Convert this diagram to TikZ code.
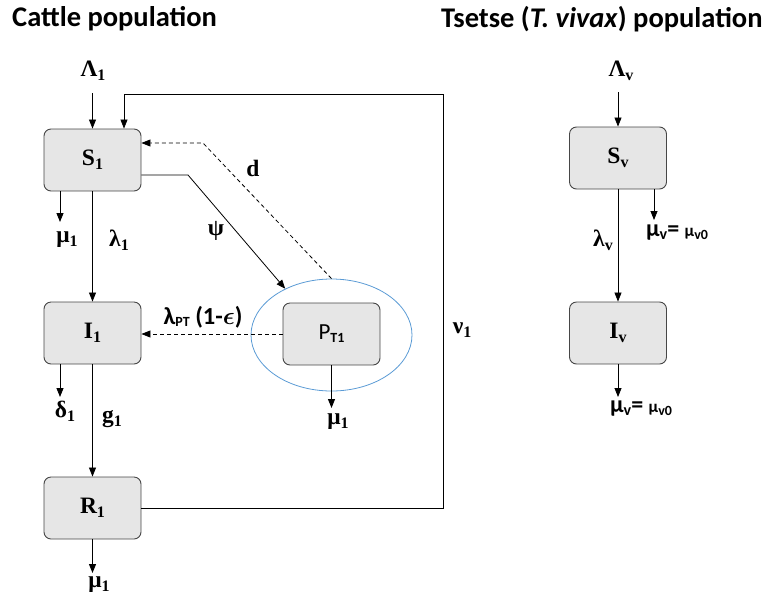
\documentclass[tikz,border=0pt]{standalone}
\usepackage{fontspec}
\newfontfamily\calib{Carlito}
\newfontfamily\labf{Liberation Serif}
\usetikzlibrary{arrows.meta,shapes.geometric}

\definecolor{boxfill}{RGB}{230,230,230}
\definecolor{boxline}{RGB}{70,70,70}
\definecolor{ringblue}{RGB}{91,155,213}

% lowered, smaller index for labels
\newcommand\lsub[1]{\raisebox{-4pt}{\fontsize{16}{16}\selectfont #1}}
\newcommand\ssub[2]{\raisebox{-2.5pt}{\fontsize{#1}{#1}\selectfont #2}}

\tikzset{
  comp/.style={draw=boxline, fill=boxfill, rounded corners=7pt, line width=0.9pt,
    minimum width=97pt, minimum height=62pt, inner sep=0pt,
    font=\labf\bfseries\fontsize{23.5}{24}\selectfont},
  flow/.style={-{Triangle[length=9pt,width=7pt]}, line width=0.8pt},
  dflow/.style={flow, dash pattern=on 4pt off 3pt},
  lbl/.style={inner sep=0pt, font=\labf\bfseries\fontsize{23.5}{24}\selectfont},
  slbl/.style={inner sep=0pt, anchor=west, font=\calib\bfseries\fontsize{18}{20}\selectfont},
  heading/.style={inner sep=0pt, anchor=west, font=\calib\bfseries\fontsize{28.5}{30}\selectfont},
}

\begin{document}
\begin{tikzpicture}[x=1pt,y=-1pt]
\useasboundingbox (0,0) rectangle (765,595);

% headings
\node[heading] (hc) at (12,19) {Cattle population};
\node[heading] (ht) at (441,19) {Tsetse (\textit{T. vivax}) population};

% ---------------- cattle compartments ----------------
\node[draw=ringblue, line width=0.8pt, ellipse, minimum width=161pt, minimum height=112pt, inner sep=0pt] (Pell) at (331.5,335) {};
\node[comp] (S1) at (92.5,160) {S\lsub{1}};
\node[comp] (I1) at (92.5,333) {I\lsub{1}};
\node[comp] (R1) at (92.5,508) {R\lsub{1}};
\node[comp, font=\calib\fontsize{23}{23}\selectfont] (P) at (331.5,334) {P\raisebox{-3pt}{\fontsize{14}{14}\selectfont\bfseries T1}};

% inflow
\node[lbl] (L1) at (93,71) {Λ\lsub{1}};
\coordinate (inS1) at (92.5,93);
\draw[flow] (inS1) -- (S1.north);

% feedback R1 -> S1
\coordinate (loopTR) at (443,94);
\coordinate (loopTL) at (124,94);
\draw[flow] (R1.east) -| (loopTR) -- (loopTL) -- (loopTL |- S1.north);
\node[lbl] (nu) at (462,330) {ν\lsub{1}};

% S1 -> I1
\draw[flow] (S1) -- (I1);
\node[lbl] (lam1) at (119,240) {λ\lsub{1}};

% S1 -> P (psi)
\coordinate (psiK) at (188,175);
\draw[flow] ([yshift=-15pt]S1.east) -- (psiK) -- (Pell.135);
\node[lbl] (psi) at (216,231) {ψ};

% P -> S1 (d), dashed
\coordinate (dK) at (203,143);
\draw[dflow] (Pell.north) -- (dK) -- ([yshift=17pt]S1.east);
\node[lbl] (d) at (253,168) {d};

% P -> I1, dashed
\draw[dflow] (P.west) -- (P.west -| I1.east);
\node[inner sep=0pt, font=\calib\bfseries\fontsize{24.5}{25}\selectfont\boldmath] (lpt) at (203,317)
  {λ\ssub{14}{PT} (1-$\epsilon$)};

% I1 -> R1
\draw[flow] (I1) -- (R1);
\node[lbl] (g1) at (112,419) {g\lsub{1}};

% outflows
\coordinate (s1Out) at (60,222);
\draw[flow] (S1.south -| s1Out) -- (s1Out);
\node[lbl] (m1a) at (67,240) {μ\lsub{1}};

\coordinate (i1Out) at (60,397);
\draw[flow] (I1.south -| i1Out) -- (i1Out);
\node[lbl] (dl1) at (65,411) {δ\lsub{1}};

\coordinate (r1Out) at (92.5,573);
\draw[flow] (R1.south) -- (r1Out);
\node[lbl] (m1c) at (99,585) {μ\lsub{1}};

\coordinate (pOut) at (331.5,408);
\draw[flow] (P.south) -- (pOut);
\node[lbl] (m1b) at (338,422) {μ\lsub{1}};

% ---------------- tsetse compartments ----------------
\node[comp] (Sv) at (618,158) {S\lsub{v}};
\node[comp] (Iv) at (618,333) {I\lsub{v}};

\node[lbl] (Lv) at (621,71) {Λ\lsub{v}};
\coordinate (inSv) at (618,92);
\draw[flow] (inSv) -- (Sv.north);

\draw[flow] (Sv) -- (Iv);
\node[lbl] (lamv) at (603,240) {λ\lsub{v}};

\coordinate (svOut) at (654,220);
\draw[flow] (Sv.south -| svOut) -- (svOut);
\node[slbl] (mvs) at (646,233)
  {\fontsize{24}{24}\selectfont μ\ssub{16}{v}= {\fontsize{17}{17}\selectfont μ\ssub{14}{v0}}};

\coordinate (ivOut) at (618,397);
\draw[flow] (Iv.south) -- (ivOut);
\node[slbl] (mvi) at (610,409)
  {\fontsize{24}{24}\selectfont μ\ssub{16}{v}= {\fontsize{17}{17}\selectfont μ\ssub{14}{v0}}};
\end{tikzpicture}
\end{document}
